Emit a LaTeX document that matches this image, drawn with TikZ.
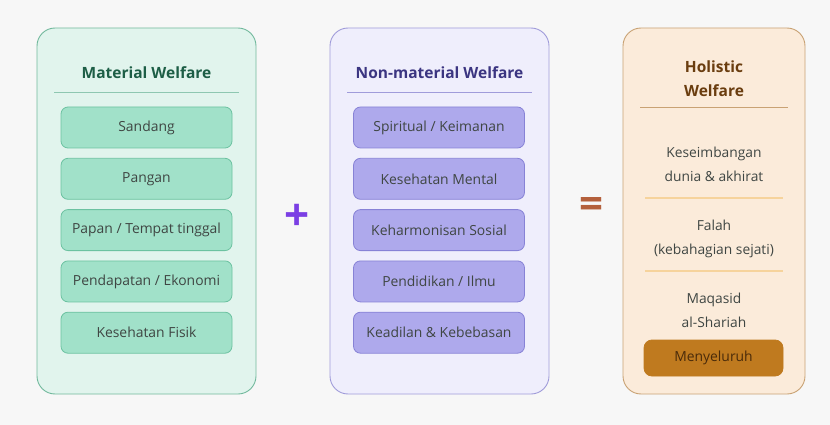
\documentclass[tikz,border=0pt]{standalone}
\usepackage{fontspec}
\setmainfont{Open Sans}
\usetikzlibrary{positioning}

\definecolor{bgcol}{HTML}{F7F7F7}
\definecolor{matfill}{HTML}{E1F4ED}
\definecolor{matline}{HTML}{72B99D}
\definecolor{matbox}{HTML}{A1E1C9}
\definecolor{matboxline}{HTML}{6CC2A1}
\definecolor{mattitle}{HTML}{1D5E46}
\definecolor{nonfill}{HTML}{EFEEFC}
\definecolor{nonline}{HTML}{A09CDA}
\definecolor{nonbox}{HTML}{AEA9EC}
\definecolor{nonboxline}{HTML}{8782D6}
\definecolor{nontitle}{HTML}{3B3581}
\definecolor{holfill}{HTML}{FBEBDA}
\definecolor{holline}{HTML}{C9A274}
\definecolor{holtitle}{HTML}{6A3D0F}
\definecolor{holsep}{HTML}{F6D39C}
\definecolor{holbtn}{HTML}{BF7A1F}
\definecolor{txtcol}{HTML}{3F4643}
\definecolor{pluscol}{HTML}{7B3FE4}
\definecolor{eqcol}{HTML}{B4603C}

\tikzset{
  panel/.style={draw, rounded corners=18pt, line width=0.9pt, inner sep=0pt},
  item/.style={draw, rounded corners=7pt, line width=0.8pt, minimum width=171pt, minimum height=41pt,
    inner sep=0pt, font=\fontsize{13.9}{15}\selectfont, text=txtcol},
  ptitle/.style={font=\fontsize{15.5}{19}\selectfont\bfseries, align=center},
  holtext/.style={font=\fontsize{13.8}{24}\selectfont, text=txtcol, align=center}
}

\begin{document}
\begin{tikzpicture}[x=1pt,y=-1pt]
\fill[bgcol] (0,0) rectangle (830,425); % latar
\useasboundingbox (0,0) rectangle (830,425);

% Material Welfare
\node[panel, fill=matfill, draw=matline, minimum width=219pt, minimum height=366pt] (mat) at (146.5,211) {};
\node[ptitle, text=mattitle] (mattl) at (146.5,73) {Material Welfare};
\draw[matline!80, line width=0.8pt] (54,92) coordinate (mata) -- (239,92) coordinate (matb);
\node[item, fill=matbox, draw=matboxline] (m1) at (146.5,127.5) {Sandang};
\node[item, fill=matbox, draw=matboxline, below=9.5pt of m1] (m2) {Pangan};
\node[item, fill=matbox, draw=matboxline, below=9.5pt of m2] (m3) {Papan / Tempat tinggal};
\node[item, fill=matbox, draw=matboxline, below=9.5pt of m3] (m4) {Pendapatan / Ekonomi};
\node[item, fill=matbox, draw=matboxline, below=9.5pt of m4] (m5) {Kesehatan Fisik};

\node[font=\fontsize{44}{44}\selectfont\bfseries, text=pluscol] (plus) at (297.5,217) {+};

% Non-material Welfare
\node[panel, fill=nonfill, draw=nonline, minimum width=219pt, minimum height=366pt] (non) at (439.5,211) {};
\node[ptitle, text=nontitle] (nontl) at (439.5,73) {Non-material Welfare};
\draw[nonline, line width=0.8pt] (347,92) coordinate (nona) -- (532,92) coordinate (nonb);
\node[item, fill=nonbox, draw=nonboxline] (n1) at (439,127.5) {Spiritual / Keimanan};
\node[item, fill=nonbox, draw=nonboxline, below=9.5pt of n1] (n2) {Kesehatan Mental};
\node[item, fill=nonbox, draw=nonboxline, below=9.5pt of n2] (n3) {Keharmonisan Sosial};
\node[item, fill=nonbox, draw=nonboxline, below=9.5pt of n3] (n4) {Pendidikan / Ilmu};
\node[item, fill=nonbox, draw=nonboxline, below=9.5pt of n4] (n5) {Keadilan \& Kebebasan};

\node[font=\fontsize{42}{42}\selectfont\bfseries, text=eqcol] (eq) at (591.5,208) {=};

% Holistic Welfare
\node[panel, fill=holfill, draw=holline, minimum width=182pt, minimum height=366pt] (hol) at (714,211) {};
\node[ptitle, text=holtitle, font=\fontsize{15.5}{24}\selectfont\bfseries] (holtl) at (714,79) {Holistic\\Welfare};
\draw[holline, line width=0.8pt] (640,107) coordinate (hola) -- (788,107) coordinate (holb);
\node[holtext] (h1) at (714,164) {Keseimbangan\\dunia \& akhirat};
\draw[holsep, line width=2pt] (645,198) coordinate (s1a) -- (783,198) coordinate (s1b);
\node[holtext] (h2) at (714,239) {Falah\\(kebahagian sejati)};
\draw[holsep, line width=2pt] (645,271) coordinate (s2a) -- (783,271) coordinate (s2b);
\node[holtext] (h3) at (714,310) {Maqasid\\al-Shariah};
\node[item, fill=holbtn, draw=holbtn, minimum width=139pt, minimum height=36pt, rounded corners=8pt, text=holtitle!70!black] (btn) at (713.5,358) {Menyeluruh};
\end{tikzpicture}
\end{document}
